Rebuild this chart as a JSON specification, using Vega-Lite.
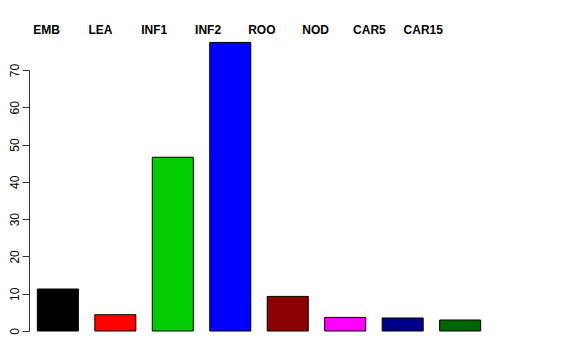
{
  "$schema": "https://vega.github.io/schema/vega-lite/v6.json",
  "width": 460,
  "height": 261,
  "autosize": {"type": "none"},
  "padding": {"left": 29, "top": 70, "right": 87, "bottom": 29},
  "background": "white",
  "config": {"view": {"stroke": null}, "font": "Liberation Sans", "axis": {"labelOverlap": false}},
  "data": {
    "values": [
      {"name": "EMB", "value": 11.26, "color": "#000000"},
      {"name": "LEA", "value": 4.37, "color": "#FF0000"},
      {"name": "INF1", "value": 46.6, "color": "#00CD00"},
      {"name": "INF2", "value": 77.4, "color": "#0000FF"},
      {"name": "ROO", "value": 9.28, "color": "#8B0000"},
      {"name": "NOD", "value": 3.65, "color": "#FF00FF"},
      {"name": "CAR5", "value": 3.49, "color": "#00008B"},
      {"name": "CAR15", "value": 2.95, "color": "#006400"}
    ]
  },
  "layer": [
    {
      "mark": {"type": "bar", "stroke": "#000000", "strokeWidth": 1},
      "encoding": {
        "x": {
          "field": "name",
          "type": "nominal",
          "sort": null,
          "scale": {"paddingInner": 0.286, "paddingOuter": 0.145},
          "axis": null
        },
        "y": {
          "field": "value",
          "type": "quantitative",
          "scale": {"domain": [0, 70], "nice": false},
          "axis": {
            "title": null,
            "values": [0, 10, 20, 30, 40, 50, 60, 70],
            "tickCount": 8,
            "grid": false,
            "domainColor": "#333333",
            "tickColor": "#333333",
            "tickSize": 7,
            "labelAngle": -90,
            "labelAlign": "center",
            "labelBaseline": "bottom",
            "labelPadding": 1,
            "labelFontSize": 12,
            "labelColor": "#000000",
            "labelFont": "Liberation Sans",
            "labelOverlap": false,
            "labelSeparation": 0,
            "labelBound": false,
            "labelFlush": false
          }
        },
        "fill": {"field": "color", "type": "nominal", "scale": null}
      }
    },
    {
      "mark": {"type": "text", "fontWeight": "bold", "fontSize": 12, "font": "Liberation Sans", "baseline": "alphabetic", "align": "center", "color": "#000000"},
      "encoding": {
        "x": {
          "field": "name",
          "type": "nominal",
          "sort": null,
          "scale": {"type": "point", "padding": 0.776, "align": 0.212},
          "axis": null
        },
        "y": {"datum": 79.6, "type": "quantitative"},
        "text": {"field": "name"}
      }
    }
  ],
  "resolve": {"scale": {"x": "independent"}}
}
